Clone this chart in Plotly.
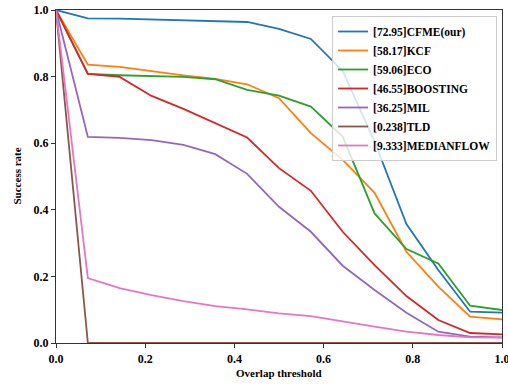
import plotly.graph_objects as go

thresholds = [i / 14 for i in range(15)]

names = ["[72.95]CFME(our)", "[58.17]KCF", "[59.06]ECO", "[46.55]BOOSTING",
         "[36.25]MIL", "[0.238]TLD", "[9.333]MEDIANFLOW"]

cfme = [1.0, 0.975, 0.974, 0.972, 0.970, 0.967, 0.964, 0.943, 0.913, 0.817, 0.605, 0.357, 0.219, 0.094, 0.091]
kcf = [1.0, 0.836, 0.829, 0.816, 0.804, 0.793, 0.777, 0.735, 0.630, 0.550, 0.451, 0.274, 0.169, 0.079, 0.071]
eco = [1.0, 0.808, 0.804, 0.801, 0.799, 0.792, 0.760, 0.743, 0.710, 0.620, 0.389, 0.282, 0.239, 0.112, 0.099]
boosting = [1.0, 0.808, 0.799, 0.742, 0.703, 0.660, 0.617, 0.525, 0.457, 0.334, 0.234, 0.141, 0.069, 0.030, 0.026]
mil = [1.0, 0.619, 0.616, 0.609, 0.595, 0.567, 0.508, 0.409, 0.334, 0.232, 0.159, 0.091, 0.034, 0.019, 0.017]
tld = [1.0] + [0.0] * 14
medianflow = [1.0, 0.195, 0.165, 0.144, 0.126, 0.111, 0.101, 0.089, 0.081, 0.064, 0.049, 0.034, 0.024, 0.017, 0.016]

series = [cfme, kcf, eco, boosting, mil, tld, medianflow]
colors = ["#1f77b4", "#ff7f0e", "#2ca02c", "#d62728", "#9467bd", "#8c564b", "#e377c2"]

tick_vals = [0.0, 0.2, 0.4, 0.6, 0.8, 1.0]
tick_text = ["0.0", "0.2", "0.4", "0.6", "0.8", "1.0"]

font_family = "Liberation Serif"

fig = go.Figure()
for name, ys, c in zip(names, series, colors):
    fig.add_trace(go.Scatter(x=thresholds, y=ys, mode="lines", name=name,
                             line=dict(color=c, width=1.8)))

axis_common = dict(
    showgrid=False, zeroline=False, showline=True, linecolor="#333", linewidth=1.2,
    mirror=True, ticks="outside", ticklen=4, tickcolor="#333",
    tickfont=dict(family=font_family, size=12, color="black", weight="bold"),
    tickmode="array", tickvals=tick_vals, ticktext=tick_text,
    range=[0, 1], automargin=False, ticklabeloverflow="allow",
)

fig.update_layout(
    width=508, height=384,
    margin=dict(l=56, r=6, t=10, b=41),
    paper_bgcolor="white", plot_bgcolor="white",
    font=dict(family=font_family, color="black"),
    xaxis=dict(**axis_common),
    yaxis=dict(**axis_common),
    legend=dict(x=0.989, y=0.982, xanchor="right", yanchor="top",
                bgcolor="rgba(255,255,255,0.8)", bordercolor="#cccccc", borderwidth=1,
                font=dict(family=font_family, size=11.5, color="black", weight="bold"),
                tracegroupgap=0, itemwidth=30),
    showlegend=True,
    annotations=[
        dict(text="<b>Overlap threshold</b>", xref="paper", yref="paper", x=0.5, y=0,
             xanchor="center", yanchor="top", yshift=-22, showarrow=False,
             font=dict(family=font_family, size=11, color="black")),
        dict(text="<b>Success rate</b>", xref="paper", yref="paper", x=0, y=0.5,
             xanchor="center", yanchor="middle", xshift=-40, textangle=-90, showarrow=False,
             font=dict(family=font_family, size=11, color="black")),
    ],
)

fig.write_html("out.html", config={"displayModeBar": False},
               post_script="document.body.style.margin='0';document.body.style.overflow='hidden';")
